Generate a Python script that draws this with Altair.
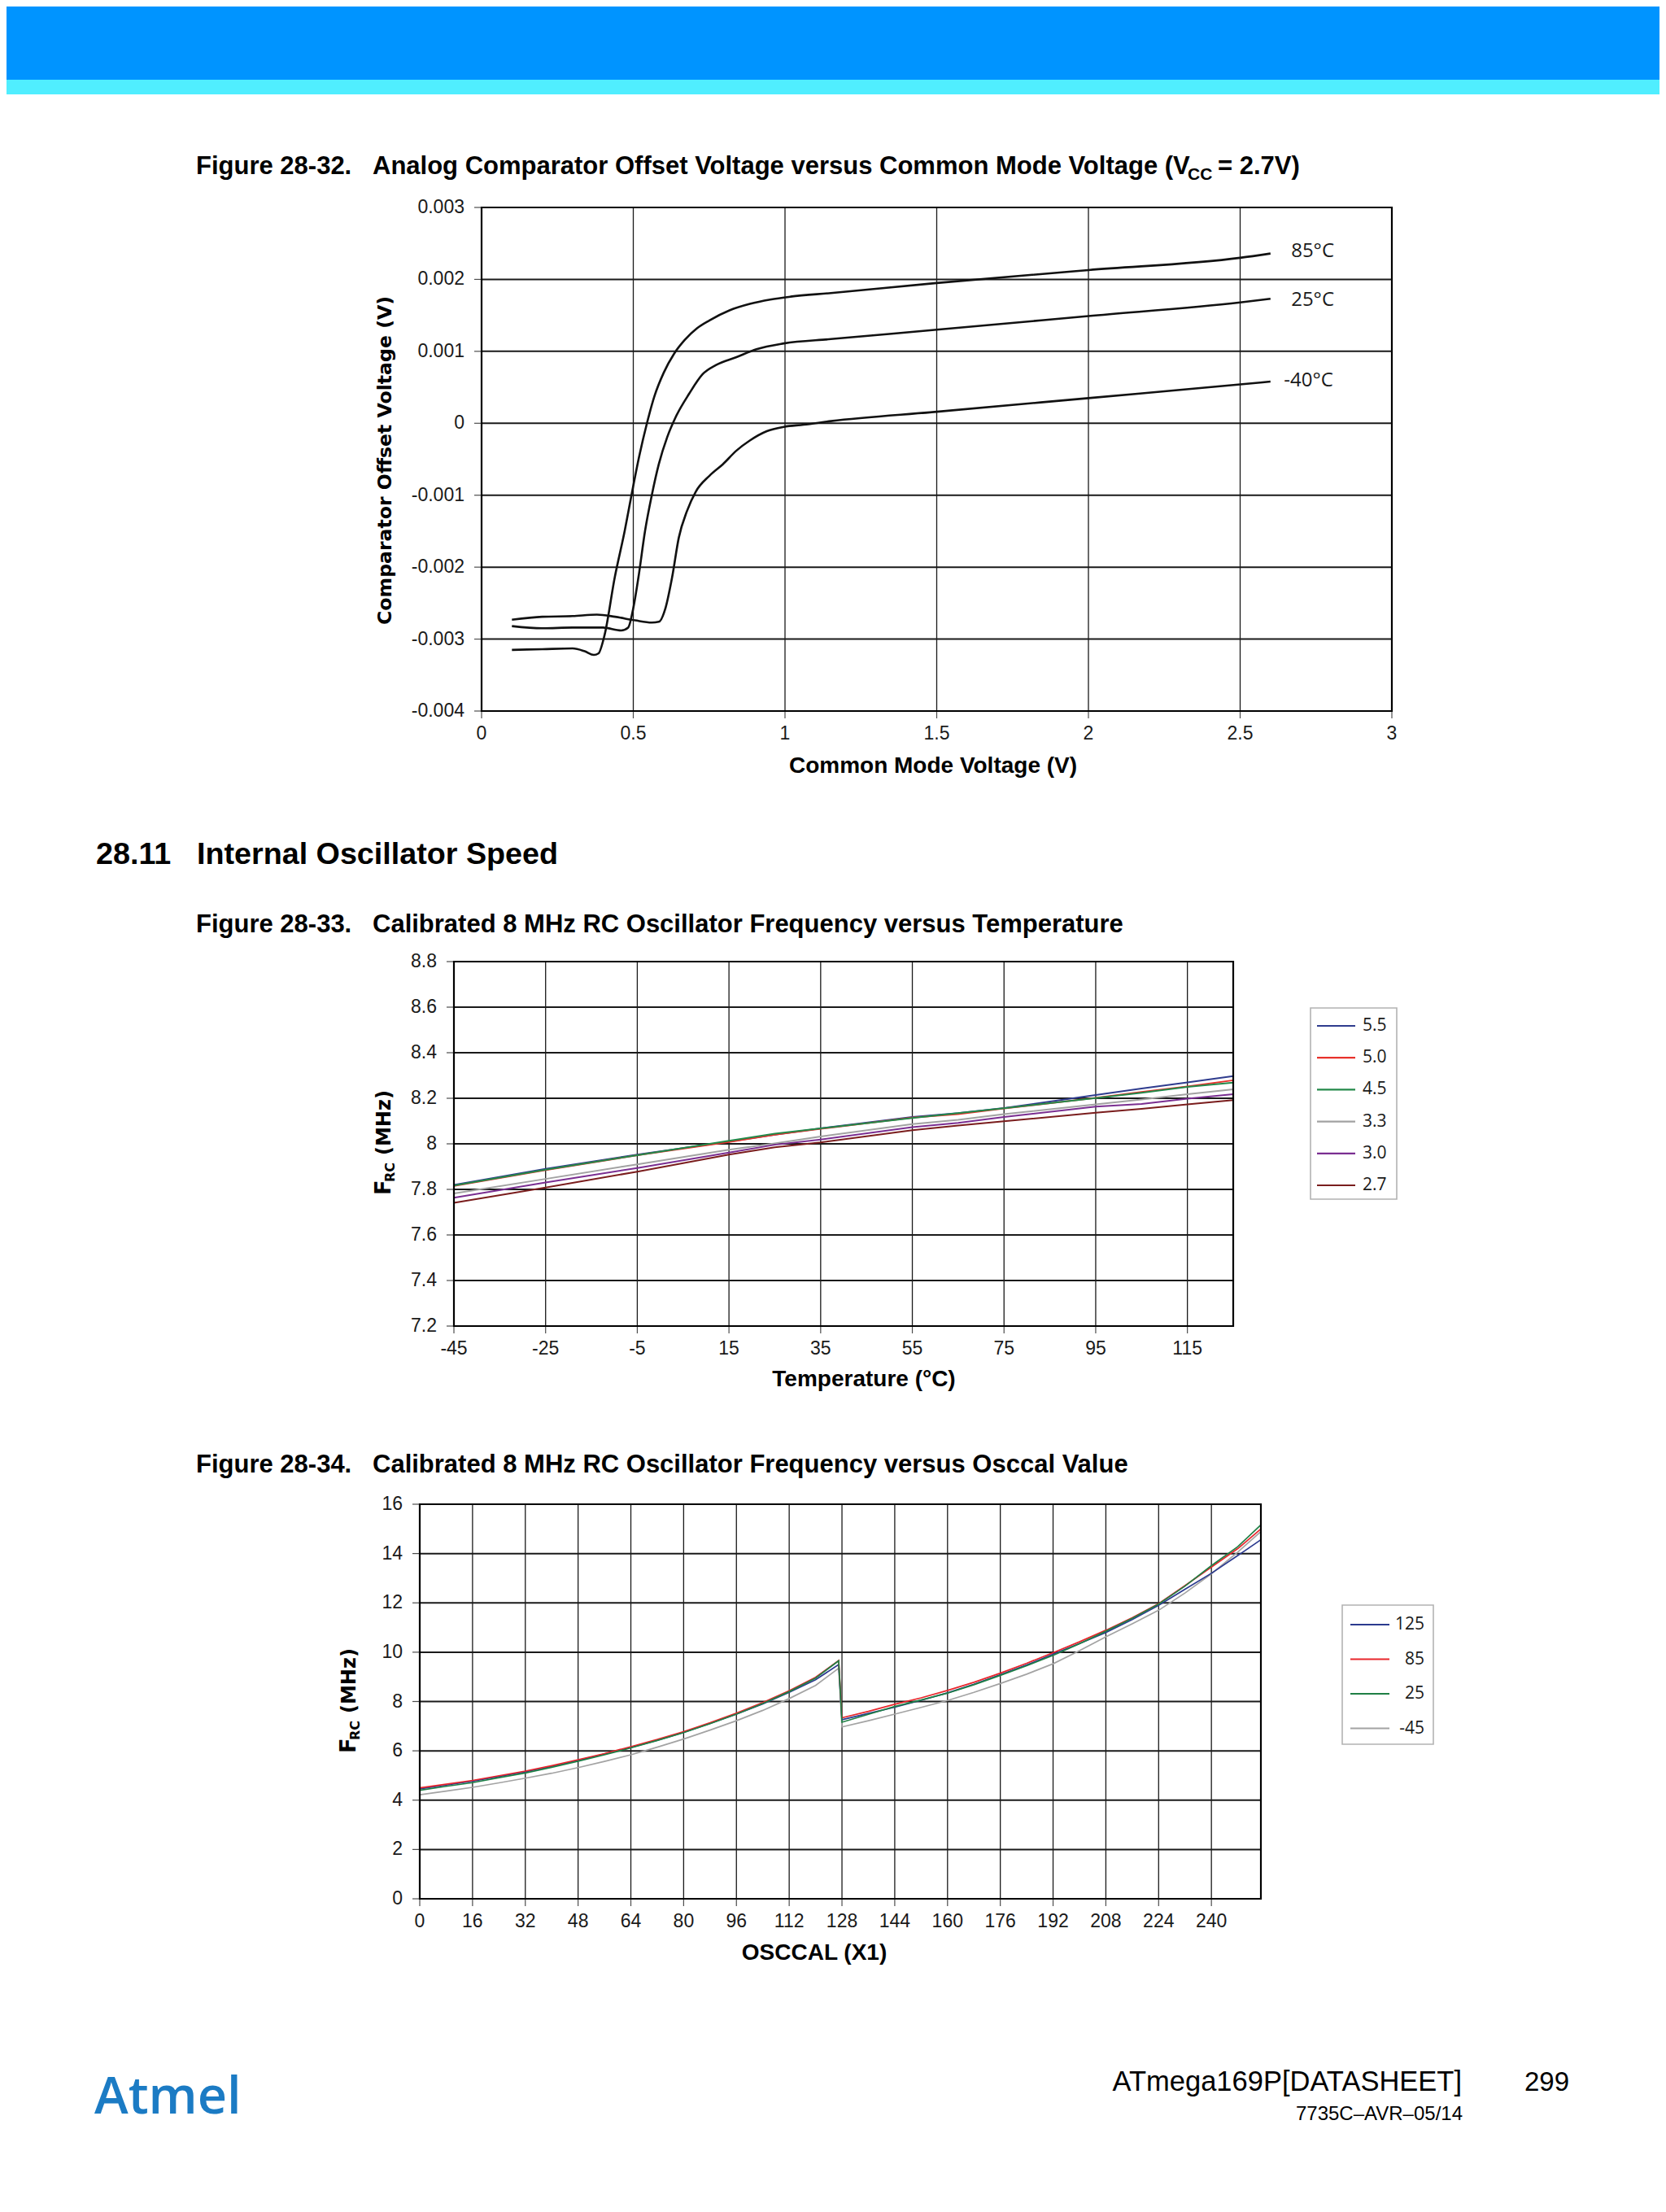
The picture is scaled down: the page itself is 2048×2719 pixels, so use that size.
import altair as alt
import pandas as pd

# ------------------------------------------------------------------ data
# Figure 28-32: comparator offset (mV) vs common mode voltage (V), VCC = 2.7V
cmv_85_x = [0.10, 0.20, 0.30, 0.34, 0.37, 0.385, 0.405, 0.439, 0.472, 0.494, 0.52, 0.545, 0.57, 0.60,
            0.635, 0.67, 0.71, 0.751, 0.817, 0.884, 0.951, 1.018, 1.151, 1.5, 2.0, 2.5, 2.6]
cmv_85_mv = [-3.15, -3.14, -3.13, -3.17, -3.22, -3.20, -2.95, -2.14, -1.49, -1.00, -0.45, 0.00, 0.38, 0.70,
             0.97, 1.16, 1.32, 1.43, 1.57, 1.66, 1.72, 1.76, 1.81, 1.95, 2.13, 2.30, 2.36]
cmv_25_x = [0.10, 0.20, 0.30, 0.40, 0.46, 0.483, 0.50, 0.517, 0.539, 0.561, 0.584, 0.612, 0.639, 0.684,
            0.728, 0.773, 0.84, 0.906, 0.996, 1.151, 1.5, 2.0, 2.5, 2.6]
cmv_25_mv = [-2.82, -2.85, -2.84, -2.84, -2.88, -2.84, -2.57, -2.14, -1.49, -1.00, -0.57, -0.19, 0.08, 0.41,
             0.68, 0.81, 0.92, 1.03, 1.11, 1.17, 1.30, 1.49, 1.68, 1.73]
cmv_m40_x = [0.10, 0.20, 0.30, 0.38, 0.44, 0.506, 0.561, 0.584, 0.606, 0.628, 0.65, 0.677, 0.706, 0.751,
             0.795, 0.84, 0.884, 0.94, 0.996, 1.062, 1.151, 1.5, 2.0, 2.5, 2.6]
cmv_m40_mv = [-2.73, -2.69, -2.68, -2.66, -2.69, -2.74, -2.77, -2.76, -2.57, -2.14, -1.59, -1.22, -0.95, -0.73,
              -0.57, -0.38, -0.24, -0.11, -0.05, -0.02, 0.03, 0.16, 0.35, 0.54, 0.58]
cmv_names = ["85°C", "25°C", "-40°C"]
cmv_label_x = [2.668, 2.668, 2.644]
cmv_label_mv = [2.39, 1.71, 0.59]
fig1_xticks = [0, 0.5, 1, 1.5, 2, 2.5, 3]
fig1_xlabels = ["0", "0.5", "1", "1.5", "2", "2.5", "3"]
fig1_yticks = [-0.004, -0.003, -0.002, -0.001, 0, 0.001, 0.002, 0.003]
fig1_ylabels = ["-0.004", "-0.003", "-0.002", "-0.001", "0", "0.001", "0.002", "0.003"]

# Figure 28-33: calibrated 8 MHz RC oscillator frequency vs temperature
temp_c = [-45, -25, -5, 15, 25, 35, 55, 65, 75, 95, 105, 115, 125]
f_vcc55 = [7.820, 7.890, 7.953, 8.010, 8.040, 8.068, 8.118, 8.135, 8.157, 8.214, 8.243, 8.270, 8.297]
f_vcc50 = [7.815, 7.885, 7.950, 8.008, 8.040, 8.066, 8.115, 8.130, 8.155, 8.202, 8.228, 8.252, 8.279]
f_vcc45 = [7.817, 7.887, 7.950, 8.013, 8.045, 8.068, 8.113, 8.135, 8.156, 8.201, 8.224, 8.250, 8.269]
f_vcc33 = [7.782, 7.846, 7.910, 7.974, 8.002, 8.032, 8.087, 8.105, 8.130, 8.173, 8.195, 8.218, 8.239]
f_vcc30 = [7.763, 7.830, 7.894, 7.962, 7.996, 8.019, 8.073, 8.092, 8.118, 8.163, 8.175, 8.198, 8.218]
f_vcc27 = [7.741, 7.808, 7.878, 7.953, 7.985, 8.006, 8.060, 8.080, 8.099, 8.137, 8.154, 8.173, 8.192]
vcc_names = ["5.5", "5.0", "4.5", "3.3", "3.0", "2.7"]
vcc_colors = ["#2F3C8E", "#E8312B", "#23894A", "#A2A2A2", "#7A2E91", "#7A1D1D"]
fig2_xticks = [-45, -25, -5, 15, 35, 55, 75, 95, 115]
fig2_xlabels = ["-45", "-25", "-5", "15", "35", "55", "75", "95", "115"]
fig2_yticks = [7.2, 7.4, 7.6, 7.8, 8.0, 8.2, 8.4, 8.6, 8.8]
fig2_ylabels = ["7.2", "7.4", "7.6", "7.8", "8", "8.2", "8.4", "8.6", "8.8"]

# Figure 28-34: calibrated 8 MHz RC oscillator frequency vs OSCCAL value
osccal = [0, 8, 16, 24, 32, 40, 48, 56, 64, 72, 80, 88, 96, 104, 112, 120, 127,
          128, 136, 144, 152, 160, 168, 176, 184, 192, 200, 208, 216, 224, 232, 240, 248, 255]
f_t125 = [4.46, 4.61, 4.77, 4.96, 5.15, 5.37, 5.61, 5.87, 6.14, 6.43, 6.75, 7.11, 7.49, 7.90, 8.37, 8.88, 9.50,
          7.26, 7.52, 7.77, 8.05, 8.35, 8.70, 9.09, 9.48, 9.92, 10.35, 10.80, 11.32, 11.90, 12.55, 13.20, 13.92, 14.56]
f_t85 = [4.50, 4.65, 4.80, 4.99, 5.18, 5.40, 5.64, 5.89, 6.17, 6.46, 6.78, 7.14, 7.53, 7.96, 8.44, 8.98, 9.66,
         7.34, 7.60, 7.89, 8.15, 8.45, 8.78, 9.15, 9.55, 9.98, 10.42, 10.89, 11.40, 11.97, 12.70, 13.45, 14.20, 15.00]
f_t25 = [4.40, 4.56, 4.71, 4.91, 5.10, 5.33, 5.58, 5.84, 6.12, 6.42, 6.74, 7.10, 7.49, 7.92, 8.40, 8.95, 9.65,
         7.16, 7.48, 7.80, 8.06, 8.34, 8.68, 9.06, 9.45, 9.87, 10.34, 10.85, 11.37, 11.95, 12.68, 13.51, 14.28, 15.16]
f_tm45 = [4.22, 4.37, 4.52, 4.70, 4.89, 5.09, 5.32, 5.57, 5.84, 6.15, 6.48, 6.84, 7.22, 7.64, 8.12, 8.65, 9.35,
          6.97, 7.22, 7.49, 7.76, 8.04, 8.37, 8.73, 9.11, 9.53, 10.06, 10.62, 11.15, 11.70, 12.40, 13.18, 14.06, 14.89]
temp_names = ["125", "85", "25", "-45"]
temp_colors = ["#2B3A8F", "#E8262B", "#1F7F45", "#A3A3A3"]
fig3_xticks = [0, 16, 32, 48, 64, 80, 96, 112, 128, 144, 160, 176, 192, 208, 224, 240]
fig3_xlabels = ["0", "16", "32", "48", "64", "80", "96", "112", "128", "144", "160", "176", "192", "208", "224", "240"]
fig3_yticks = [0, 2, 4, 6, 8, 10, 12, 14, 16]
fig3_ylabels = ["0", "2", "4", "6", "8", "10", "12", "14", "16"]

# ------------------------------------------------------------------ layout helpers
W, H, M = 2032, 2703, 8


def P(v):
    return v - M


SANS = "Liberation Sans, Arial, Helvetica, sans-serif"
WIDE = "DejaVu Sans, Verdana, sans-serif"
OPEN = "Open Sans, sans-serif"
one = pd.DataFrame({"k": [0]})
TICK_C = "#4d4d4d"
LABEL_C = "#1a1a1a"
TICK_FS = 23


def text_at(s, x, y, size, bold=False, font=SANS, align="left", angle=None, color="#000000", weight=None):
    props = dict(text=s, fontSize=size, fontWeight=weight if weight else ("bold" if bold else "normal"),
                 font=font, align=align, baseline="alphabetic", color=color)
    if angle is not None:
        props["angle"] = angle
    return alt.Chart(one).mark_text(**props).encode(x=alt.value(P(x)), y=alt.value(P(y)))


def plot_frame(box, xdom, ydom, xticks, xlabels, yticks, ylabels, xgrid, ygrid):
    L, R, T, B = box
    xs = alt.Scale(domain=xdom, range=[P(L), P(R)], nice=False, zero=False)
    ys = alt.Scale(domain=ydom, range=[P(B), P(T)], nice=False, zero=False)
    vg = pd.DataFrame({"v": xgrid, "lo": [ydom[0]] * len(xgrid), "hi": [ydom[1]] * len(xgrid)})
    hg = pd.DataFrame({"v": ygrid, "lo": [xdom[0]] * len(ygrid), "hi": [xdom[1]] * len(ygrid)})
    fr = pd.DataFrame({"x0": [xdom[0]], "x1": [xdom[1]], "y0": [ydom[0]], "y1": [ydom[1]]})
    xt = pd.DataFrame({"v": xticks, "lab": xlabels, "base": [ydom[0]] * len(xticks)})
    yt = pd.DataFrame({"v": yticks, "lab": ylabels, "base": [xdom[0]] * len(yticks)})

    vrule = alt.Chart(vg).mark_rule(color="#1a1a1a", strokeWidth=1.3).encode(
        x=alt.X("v:Q", scale=xs, axis=None), y=alt.Y("lo:Q", scale=ys, axis=None), y2="hi:Q")
    hrule = alt.Chart(hg).mark_rule(color="#1a1a1a", strokeWidth=2.0).encode(
        y=alt.Y("v:Q", scale=ys, axis=None), x=alt.X("lo:Q", scale=xs, axis=None), x2="hi:Q")
    xtick = alt.Chart(xt).mark_rule(color=TICK_C, strokeWidth=1.2).encode(
        x=alt.X("v:Q", scale=xs, axis=None), y=alt.Y("base:Q", scale=ys, axis=None), y2=alt.value(P(B) + 9))
    ytick = alt.Chart(yt).mark_rule(color=TICK_C, strokeWidth=1.2).encode(
        y=alt.Y("v:Q", scale=ys, axis=None), x=alt.X("base:Q", scale=xs, axis=None), x2=alt.value(P(L) - 9))
    xlab = alt.Chart(xt).mark_text(font=SANS, fontSize=TICK_FS, color=LABEL_C, align="center",
                                   baseline="alphabetic", dy=35).encode(
        x=alt.X("v:Q", scale=xs, axis=None), y=alt.Y("base:Q", scale=ys, axis=None), text="lab:N")
    ylab = alt.Chart(yt).mark_text(font=SANS, fontSize=TICK_FS, color=LABEL_C, align="right",
                                   baseline="middle", dx=-21).encode(
        y=alt.Y("v:Q", scale=ys, axis=None), x=alt.X("base:Q", scale=xs, axis=None), text="lab:N")
    frame = alt.Chart(fr).mark_rect(filled=False, color="#000000", strokeWidth=2.2).encode(
        x=alt.X("x0:Q", scale=xs, axis=None), x2="x1:Q",
        y=alt.Y("y0:Q", scale=ys, axis=None), y2="y1:Q")
    return xs, ys, [vrule, hrule, xtick, ytick, xlab, ylab], frame


def frc_title(base_x, start_y):
    return [
        text_at("F", base_x, start_y, 27, bold=True, font=WIDE, angle=270),
        text_at("RC", base_x + 5, start_y - 16, 16, bold=True, font=WIDE, angle=270),
        text_at("(MHz)", base_x, start_y - 49, 24, bold=True, font=WIDE, angle=270),
    ]


def legend_block(names, colors, box, rows, line_x, text_x, text_align):
    bx0, bx1, by0, by1 = box
    ldf = pd.DataFrame({"series": names})
    ysc = alt.Scale(type="point", domain=names, range=[P(rows[0]), P(rows[1])], padding=0)
    csc = alt.Scale(domain=names, range=colors)
    frame = alt.Chart(one).mark_rect(filled=False, color="#B3B3B3", strokeWidth=1.6).encode(
        x=alt.value(P(bx0)), x2=alt.value(P(bx1)), y=alt.value(P(by0)), y2=alt.value(P(by1)))
    rules = alt.Chart(ldf).mark_rule(strokeWidth=2.2).encode(
        y=alt.Y("series:N", scale=ysc, axis=None),
        x=alt.value(P(line_x[0])), x2=alt.value(P(line_x[1])),
        color=alt.Color("series:N", scale=csc, legend=None))
    labels = alt.Chart(ldf).mark_text(font=OPEN, fontSize=21, align=text_align, baseline="middle",
                                      color="#1a1a1a").encode(
        y=alt.Y("series:N", scale=ysc, axis=None), x=alt.value(P(text_x)), text="series:N")
    return alt.layer(frame, rules, labels)


# ------------------------------------------------------------------ figure 28-32
rows1 = []
for name, xs_, ys_ in zip(cmv_names, [cmv_85_x, cmv_25_x, cmv_m40_x], [cmv_85_mv, cmv_25_mv, cmv_m40_mv]):
    for a, b in zip(xs_, ys_):
        rows1.append({"series": name, "x": a, "y": b / 1000.0})
df1 = pd.DataFrame(rows1)
lab1 = pd.DataFrame({"t": cmv_names, "x": cmv_label_x, "y": [v / 1000.0 for v in cmv_label_mv]})

xs1, ys1, furn1, frame1 = plot_frame(
    (592, 1711, 255, 874), [0, 3], [-0.004, 0.003], fig1_xticks, fig1_xlabels, fig1_yticks, fig1_ylabels,
    fig1_xticks[1:-1], fig1_yticks[1:-1])
lines1 = alt.Chart(df1).mark_line(color="#111111", strokeWidth=2.6, interpolate="monotone").encode(
    x=alt.X("x:Q", scale=xs1, axis=None), y=alt.Y("y:Q", scale=ys1, axis=None), detail="series:N")
labels1 = alt.Chart(lab1).mark_text(font=OPEN, fontSize=24, align="left", baseline="middle",
                                    color="#1a1a1a").encode(
    x=alt.X("x:Q", scale=xs1, axis=None), y=alt.Y("y:Q", scale=ys1, axis=None), text="t:N")
fig1 = alt.layer(*furn1, lines1, frame1, labels1)

# ------------------------------------------------------------------ figure 28-33
rows2 = []
for name, vals in zip(vcc_names, [f_vcc55, f_vcc50, f_vcc45, f_vcc33, f_vcc30, f_vcc27]):
    for a, b in zip(temp_c, vals):
        rows2.append({"series": name, "x": a, "y": b})
df2 = pd.DataFrame(rows2)
xs2, ys2, furn2, frame2 = plot_frame(
    (558, 1516, 1182, 1630), [-45, 125], [7.2, 8.8], fig2_xticks, fig2_xlabels, fig2_yticks, fig2_ylabels,
    fig2_xticks[1:], fig2_yticks[1:-1])
lines2 = alt.Chart(df2).mark_line(strokeWidth=2.0).encode(
    x=alt.X("x:Q", scale=xs2, axis=None), y=alt.Y("y:Q", scale=ys2, axis=None),
    color=alt.Color("series:N", scale=alt.Scale(domain=vcc_names, range=vcc_colors), legend=None))
fig2 = alt.layer(*furn2, lines2, frame2)
leg2 = legend_block(vcc_names, vcc_colors, (1611, 1717, 1239, 1474), (1261, 1457), (1619, 1666), 1675, "left")

# ------------------------------------------------------------------ figure 28-34
rows3 = []
draw_order = ["-45", "125", "85", "25"]
series3 = {"125": f_t125, "85": f_t85, "25": f_t25, "-45": f_tm45}
for name in draw_order:
    for a, b in zip(osccal, series3[name]):
        rows3.append({"series": name, "x": a, "y": b})
df3 = pd.DataFrame(rows3)
xs3, ys3, furn3, frame3 = plot_frame(
    (516, 1550, 1849, 2334), [0, 255], [0, 16], fig3_xticks, fig3_xlabels, fig3_yticks, fig3_ylabels,
    fig3_xticks[1:], fig3_yticks[1:-1])
lines3 = alt.Chart(df3).mark_line(strokeWidth=1.7).encode(
    x=alt.X("x:Q", scale=xs3, axis=None), y=alt.Y("y:Q", scale=ys3, axis=None),
    color=alt.Color("series:N", scale=alt.Scale(domain=temp_names, range=temp_colors), legend=None))
fig3 = alt.layer(*furn3, lines3, frame3)
leg3 = legend_block(temp_names, temp_colors, (1650, 1762, 1973, 2144), (1997, 2124.5), (1660, 1708), 1751, "right")

# ------------------------------------------------------------------ page furniture
banner = alt.Chart(one).mark_rect(color="#0094FF").encode(
    x=alt.value(0), x2=alt.value(W), y=alt.value(0), y2=alt.value(P(98)))
stripe = alt.Chart(one).mark_rect(color="#50EEFF").encode(
    x=alt.value(0), x2=alt.value(W), y=alt.value(P(98)), y2=alt.value(P(116)))

CAP = 31
page = [
    banner, stripe,
    text_at("Figure 28-32.", 241, 214, CAP, bold=True),
    text_at("Analog Comparator Offset Voltage versus Common Mode Voltage (V", 458, 214, CAP, bold=True),
    text_at("CC", 1460, 221, 21, bold=True),
    text_at("= 2.7V)", 1497, 214, CAP, bold=True),
    text_at("28.11", 118, 1062, 37.7, bold=True),
    text_at("Internal Oscillator Speed", 242, 1062, 37.7, bold=True),
    text_at("Figure 28-33.", 241, 1146, CAP, bold=True),
    text_at("Calibrated 8 MHz RC Oscillator Frequency versus Temperature", 458, 1146, CAP, bold=True),
    text_at("Figure 28-34.", 241, 1810, CAP, bold=True),
    text_at("Calibrated 8 MHz RC Oscillator Frequency versus Osccal Value", 458, 1810, CAP, bold=True),
    text_at("Common Mode Voltage (V)", 1147, 950, 28, bold=True, align="center"),
    text_at("Comparator Offset Voltage (V)", 481, 566, 23.6, bold=True, font=WIDE, align="center", angle=270),
    text_at("Temperature (°C)", 1062, 1704, 28, bold=True, align="center"),
    text_at("OSCCAL (X1)", 1001, 2409, 28, bold=True, align="center"),
    *frc_title(480, 1469),
    *frc_title(437, 2155),
    text_at("ATmega169P[DATASHEET]", 1797, 2570, 34.5, align="right"),
    text_at("299", 1874, 2570, 33),
    text_at("7735C\u2013AVR\u201305/14", 1798, 2606, 24, align="right"),
    text_at("Atmel", 116, 2598, 63, font=OPEN, color="#1B7BC4", weight=600),
]

chart = alt.layer(*page, fig1, fig2, leg2, fig3, leg3).resolve_scale(
    x="independent", y="independent", color="independent"
).properties(
    width=W, height=H, autosize=alt.AutoSizeParams(type="none"), padding=0
).configure_view(stroke=None)

chart.save("out.html", embed_options={"renderer": "svg", "actions": False})
